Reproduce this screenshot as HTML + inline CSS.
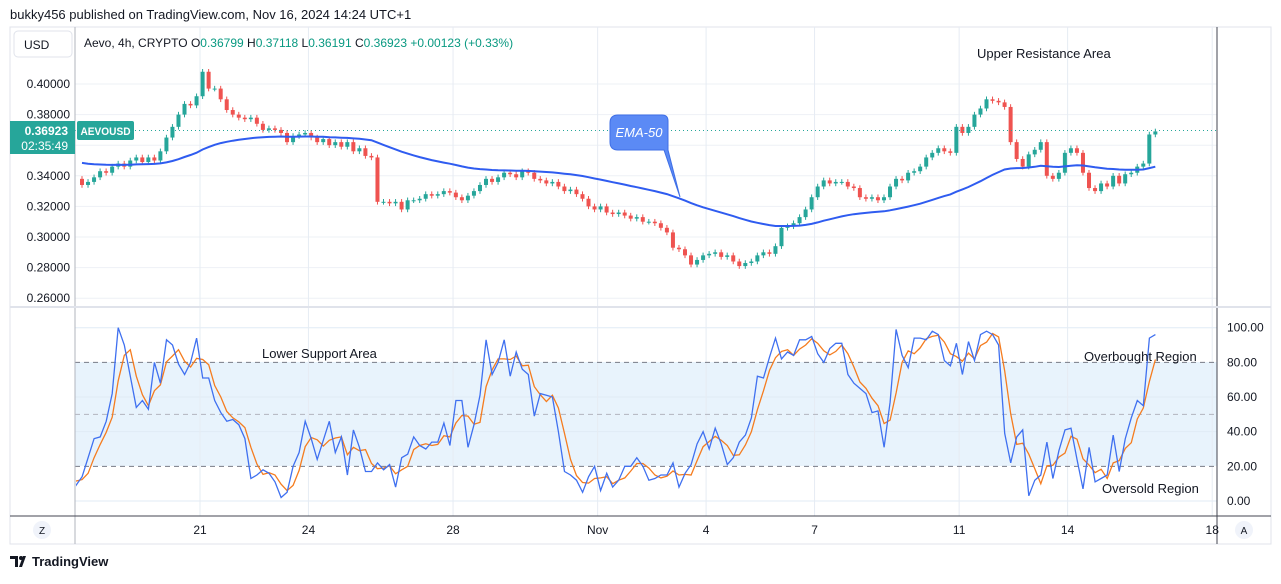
<!DOCTYPE html>
<html><head><meta charset="utf-8"><style>
body{margin:0;background:#fff;font-family:"Liberation Sans",sans-serif;}
svg text{font-family:"Liberation Sans",sans-serif;}
</style></head><body>
<svg id="c" width="1281" height="579" xmlns="http://www.w3.org/2000/svg">
<text x="10" y="19" font-size="13" fill="#131722">bukky456 published on TradingView.com, Nov 16, 2024 14:24 UTC+1</text>
<rect x="10" y="27" width="1261" height="517" fill="#fff" stroke="#e0e3eb"/>
<rect x="75" y="362" width="1142" height="104" fill="#e8f3fc"/>
<g id="grid"></g>
<g id="rsiLines"></g>
<g id="candles"></g>
<path id="ema" fill="none" stroke="#2f5cf0" stroke-width="2"/>
<line x1="75" y1="130.5" x2="1217" y2="130.5" stroke="#26a69a" stroke-dasharray="1 3"/>
<line x1="75" y1="27" x2="75" y2="544" stroke="#b2b5be"/>
<line x1="1217" y1="27" x2="1217" y2="544" stroke="#434651"/>
<line x1="10" y1="307" x2="1271" y2="307" stroke="#e0e3eb" stroke-width="2"/>
<line x1="10" y1="516" x2="1271" y2="516" stroke="#434651"/>
<rect x="14" y="31" width="58" height="26" rx="4" fill="#fff" stroke="#e0e3eb"/>
<text x="24" y="49" font-size="12" fill="#131722">USD</text>
<text x="84" y="47" font-size="12" fill="#131722">Aevo, 4h, CRYPTO <tspan>O</tspan><tspan fill="#089981">0.36799</tspan> <tspan>H</tspan><tspan fill="#089981">0.37118</tspan> <tspan>L</tspan><tspan fill="#089981">0.36191</tspan> <tspan>C</tspan><tspan fill="#089981">0.36923 +0.00123 (+0.33%)</tspan></text>
<g id="paxis"></g>
<g id="raxis"></g>
<g id="taxis"></g>
<rect x="10" y="121" width="65" height="33" fill="#26a69a"/>
<text x="68" y="135" font-size="12" fill="#fff" text-anchor="end" font-weight="bold">0.36923</text>
<text x="68" y="150" font-size="12" fill="#fff" text-anchor="end">02:35:49</text>
<rect x="77" y="121" width="57" height="19" rx="2" fill="#26a69a"/>
<text x="105.5" y="135" font-size="11" fill="#fff" font-weight="bold" text-anchor="middle" textLength="50" lengthAdjust="spacingAndGlyphs">AEVOUSD</text>
<path d="M618,115 H662 Q668,115 668,121 V150 L680,197 L664,150 H618 Q610,150 610,142 V123 Q610,115 618,115 Z" fill="#5b8af5" stroke="#3f6fe6"/>
<text x="639" y="137" font-size="13" fill="#fff" font-style="italic" text-anchor="middle">EMA-50</text>
<text x="977" y="58" font-size="13" fill="#131722">Upper Resistance Area</text>
<text x="262" y="358" font-size="13" fill="#131722">Lower Support Area</text>
<text x="1084" y="361" font-size="13" fill="#131722">Overbought Region</text>
<text x="1102" y="493" font-size="13" fill="#131722">Oversold Region</text>
<circle cx="42" cy="530" r="9" fill="#f0f3fa"/>
<text x="42" y="534" font-size="10" fill="#131722" text-anchor="middle">Z</text>
<circle cx="1244" cy="530" r="9" fill="#f0f3fa"/>
<text x="1244" y="534" font-size="10" fill="#131722" text-anchor="middle">A</text>
<g>
<path d="M10,556 h8 v11 h-3 v-8 h-5 z M19,567 l4,-11 h3 l-4,11 z" fill="#131722"/>
<circle cx="21" cy="558" r="2" fill="#131722"/>
<text x="32" y="566" font-size="13" fill="#131722" font-weight="bold">TradingView</text>
</g>
</svg>
<script>
const closes=[0.334,0.336,0.339,0.343,0.342,0.346,0.348,0.346,0.350,0.352,
0.349,0.352,0.350,0.356,0.365,0.372,0.380,0.387,0.386,0.392,
0.408,0.397,0.397,0.390,0.383,0.380,0.378,0.377,0.378,0.374,
0.370,0.371,0.370,0.368,0.362,0.366,0.367,0.368,0.365,0.362,
0.364,0.360,0.362,0.359,0.362,0.356,0.358,0.353,0.352,0.323,
0.323,0.322,0.323,0.318,0.324,0.324,0.325,0.328,0.327,0.328,
0.330,0.329,0.326,0.324,0.327,0.330,0.334,0.338,0.336,0.339,
0.342,0.341,0.339,0.343,0.342,0.338,0.337,0.335,0.336,0.333,
0.330,0.331,0.328,0.325,0.320,0.318,0.320,0.316,0.315,0.316,
0.314,0.312,0.313,0.310,0.310,0.309,0.306,0.303,0.293,0.292,
0.288,0.282,0.285,0.288,0.289,0.290,0.287,0.288,0.284,0.281,
0.283,0.284,0.288,0.290,0.289,0.294,0.306,0.307,0.309,0.313,
0.318,0.326,0.333,0.337,0.335,0.336,0.336,0.333,0.332,0.326,
0.325,0.326,0.324,0.326,0.333,0.338,0.337,0.342,0.343,0.346,
0.352,0.355,0.358,0.356,0.355,0.372,0.368,0.372,0.380,0.384,
0.390,0.389,0.388,0.385,0.362,0.351,0.346,0.354,0.357,0.362,
0.340,0.338,0.342,0.355,0.358,0.355,0.342,0.332,0.330,0.335,
0.333,0.340,0.335,0.341,0.342,0.346,0.348,0.367,0.369];
const firstOpen=0.338;
const rsiK=[14,9,14,25,36,37,46,62,100,90,72,54,58,53,80,68,93,90,79,73,80,94,71,71,58,51,46,47,44,36,13,15,18,16,11,2,5,20,28,46,36,24,35,46,28,37,15,41,31,17,17,22,18,21,8,25,27,37,32,30,34,34,45,32,58,
58,31,44,61,93,73,80,93,72,86,76,73,49,62,61,60,40,17,15,12,5,14,20,6,16,8,12,20,20,25,20,12,13,15,15,22,8,16,21,33,40,30,42,33,21,25,34,38,48,72,71,83,94,82,86,84,93,93,95,85,80,88,91,
91,73,68,65,62,51,52,31,57,99,84,77,94,94,93,98,96,81,78,91,73,92,81,96,98,96,90,39,22,37,41,3,12,15,34,13,29,41,42,24,7,31,11,13,15,38,17,36,48,58,55,94,96];
const priceTicks=[0.40,0.38,0.34,0.32,0.30,0.28,0.26];
const rsiTicks=[100,80,60,40,20,0];
const timeLabels=["21","24","28","Nov","4","7","11","14","18"];
const timeDays=[3,6,10,14,17,20,24,27,31];

const NS="http://www.w3.org/2000/svg";
const py=p=>84+(0.40-p)/0.02*30.6;
const ry=v=>501-v*1.733;
const cx=i=>82+i*6.03;
const rx=j=>70+j*6.03;
const dx=d=>200+(d-3)*36.15;
function mk(tag,attrs,parent){const e=document.createElementNS(NS,tag);for(const k in attrs)e.setAttribute(k,attrs[k]);parent.appendChild(e);return e;}
const grid=document.getElementById('grid');
[0.40,0.38,0.36,0.34,0.32,0.30,0.28,0.26].forEach(p=>{const l=mk('line',{x1:75,x2:1217,y1:py(p),y2:py(p),stroke:'#eef1f6'},grid);

});
[100,60,40,0].forEach(v=>{const l=mk('line',{x1:75,x2:1217,y1:ry(v),y2:ry(v),stroke:'#e0ebf5'},grid);

});
timeDays.forEach(d=>{const l=mk('line',{x1:dx(d),x2:dx(d),y1:27,y2:516,stroke:'#e6ecf3'},grid);

});
[[80,'#787b86'],[50,'#b2b5be'],[20,'#787b86']].forEach(([v,c])=>{const l=mk('line',{x1:75,x2:1217,y1:ry(v),y2:ry(v),stroke:c,'stroke-dasharray':'5 4'},grid);

});

const cg=document.getElementById('candles');
let prev=firstOpen;
closes.forEach((c,i)=>{const o=prev;prev=c;const up=c>=o;const col=up?'#26a69a':'#ef5350';
const hi=Math.max(o,c)+0.0018,lo=Math.min(o,c)-0.0018;const x=cx(i);
const g=mk('g',{},cg);


mk('line',{x1:x,x2:x,y1:py(hi),y2:py(lo),stroke:col},g);
const t=Math.min(py(o),py(c));const h=Math.max(1,Math.abs(py(o)-py(c)));
mk('rect',{x:x-2,y:t,width:4,height:h,fill:col},g);});

let e=0.349,d='';const k=2/51;
closes.forEach((c,i)=>{e=c*k+e*(1-k);d+=(i?'L':'M')+cx(i).toFixed(1)+','+py(e).toFixed(1);});
document.getElementById('ema').setAttribute('d',d);

const rg=document.getElementById('rsiLines');
let kd='',dd='';
rsiK.forEach((v,j)=>{kd+=(j?'L':'M')+rx(j).toFixed(1)+','+ry(v).toFixed(1);
const a=rsiK.slice(Math.max(0,j-2),j+1);const m=a.reduce((s,q)=>s+q,0)/a.length;
dd+=(j?'L':'M')+rx(j).toFixed(1)+','+ry(m).toFixed(1);});
const clip=mk('clipPath',{id:'cp'},rg);mk('rect',{x:76,y:308,width:1141,height:208},clip);
const dl=mk('path',{d:dd,fill:'none',stroke:'#f57c1f','stroke-width':1.3,'clip-path':'url(#cp)'},rg);


const kl=mk('path',{d:kd,fill:'none',stroke:'#3f70f0','stroke-width':1.3,'clip-path':'url(#cp)'},rg);



const pa=document.getElementById('paxis');
priceTicks.forEach(p=>{const t=mk('text',{x:70,y:py(p)+4,'font-size':12,fill:'#131722','text-anchor':'end'},pa);t.textContent=p.toFixed(5);

});
const ra=document.getElementById('raxis');
rsiTicks.forEach(v=>{const t=mk('text',{x:1227,y:ry(v)+4,'font-size':12,fill:'#131722'},ra);t.textContent=v.toFixed(2);

});
const ta=document.getElementById('taxis');
timeLabels.forEach((s,i)=>{const t=mk('text',{x:dx(timeDays[i]),y:534,'font-size':12,fill:'#131722','text-anchor':'middle'},ta);t.textContent=s;

});
</script>
</body></html>
